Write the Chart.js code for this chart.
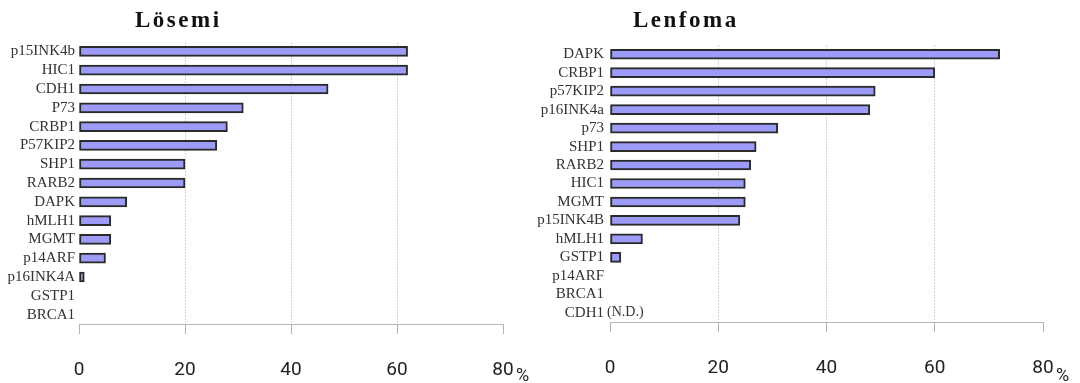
<!DOCTYPE html>
<html>
<head>
<meta charset="utf-8">
<script src="https://cdn.jsdelivr.net/npm/chart.js@4"></script>
<style>
  body { margin: 0; background: #fff; width: 1080px; height: 383px; overflow: hidden; position: relative; }
  .box { position: absolute; top: 0; height: 383px; }
  .title { position: absolute; top: 7px; font-family: 'Liberation Serif', serif; font-weight: bold;
           font-size: 23px; letter-spacing: 2.5px; color: #111; white-space: nowrap; }
</style>
</head>
<body>
<div class="box" style="left:0; width:540px"><canvas id="losemi" width="540" height="383"></canvas></div>
<div class="box" style="left:520px; width:560px"><canvas id="lenfoma" width="560" height="383"></canvas></div>
<div class="title" style="left:135px">Lösemi</div>
<div class="title" style="left:633px">Lenfoma</div>
<script>
// Lösemi (metilasyon %)
const losemiGenes = ['p15INK4b', 'HIC1', 'CDH1', 'P73', 'CRBP1', 'P57KIP2', 'SHP1', 'RARB2',
  'DAPK', 'hMLH1', 'MGMT', 'p14ARF', 'p16INK4A', 'GSTP1', 'BRCA1'];
const losemiValues = [62, 62, 47, 31, 28, 26, 20, 20, 9, 6, 6, 5, 1, 0, 0];

// Lenfoma
const lenfomaGenes = ['DAPK', 'CRBP1', 'p57KIP2', 'p16INK4a', 'p73', 'SHP1', 'RARB2', 'HIC1',
  'MGMT', 'p15INK4B', 'hMLH1', 'GSTP1', 'p14ARF', 'BRCA1', 'CDH1'];
const lenfomaValues = [72, 60, 49, 48, 31, 27, 26, 25, 25, 24, 6, 2, 0, 0, 0];

const xTicks = [0, 20, 40, 60, 80];
const unitText = '%';
const ndNote = { label: 'CDH1', text: '(N.D.)' };

// extra yazilar: "%" ve "(N.D.)"
const extraText = {
  id: 'extraText',
  afterDraw(chart, args, opts) {
    const ctx = chart.ctx;
    const x = chart.scales.x, y = chart.scales.y;
    ctx.save();
    ctx.fillStyle = '#222';
    ctx.textBaseline = 'middle';
    ctx.font = '18px Roboto, sans-serif';
    ctx.textAlign = 'left';
    ctx.fillText(unitText, x.getPixelForValue(80) + 13, 376);
    if (opts.note) {
      const i = chart.data.labels.indexOf(opts.note.label);
      ctx.font = '14px "Liberation Serif", serif';
      ctx.fillStyle = '#333';
      ctx.fillText(opts.note.text, x.getPixelForValue(0) - 3, y.getPixelForValue(i));
    }
    ctx.restore();
  }
};

function makeChart(id, labels, values, yWidth, top, xHeight, labelPad, note) {
  const ctx = document.getElementById(id).getContext('2d');
  return new Chart(ctx, {
    type: 'bar',
    data: {
      labels: labels,
      datasets: [{
        data: values,
        backgroundColor: '#9c9cf8',
        borderColor: '#2a2a2a',
        borderWidth: 2,
        borderSkipped: false,
        barThickness: 10
      }]
    },
    plugins: [extraText],
    options: {
      indexAxis: 'y',
      responsive: false,
      animation: false,
      layout: { padding: { top: top, right: 37, bottom: 0, left: 0 } },
      plugins: {
        legend: { display: false },
        tooltip: { enabled: false },
        extraText: { note: note }
      },
      scales: {
        x: {
          min: 0,
          max: 80,
          afterBuildTicks: s => { s.ticks = xTicks.map(v => ({ value: v })); },
          afterFit: s => { s.height = xHeight; },
          grid: {
            color: c => (c.tick && (c.tick.value === 0 || c.tick.value === 80)) ? 'rgba(0,0,0,0)' : '#d4d4d4',
            tickColor: '#b0b0b0',
            tickLength: 10
          },
          border: { display: true, color: '#b8b8b8', dash: [2, 1] },
          ticks: {
            padding: 25,
            color: '#222',
            maxRotation: 0,
            font: { family: 'Roboto, sans-serif', size: 19 }
          }
        },
        y: {
          afterFit: s => { s.width = yWidth; },
          grid: { display: false, drawTicks: false },
          border: { display: false },
          ticks: {
            autoSkip: false,
            padding: labelPad,
            color: '#333',
            font: { family: '"Liberation Serif", serif', size: 15 }
          }
        }
      }
    }
  });
}

makeChart('losemi', losemiGenes, losemiValues, 79, 42, 59, 4, null);
makeChart('lenfoma', lenfomaGenes, lenfomaValues, 90, 45, 61, 6, ndNote);
</script>
</body>
</html>
